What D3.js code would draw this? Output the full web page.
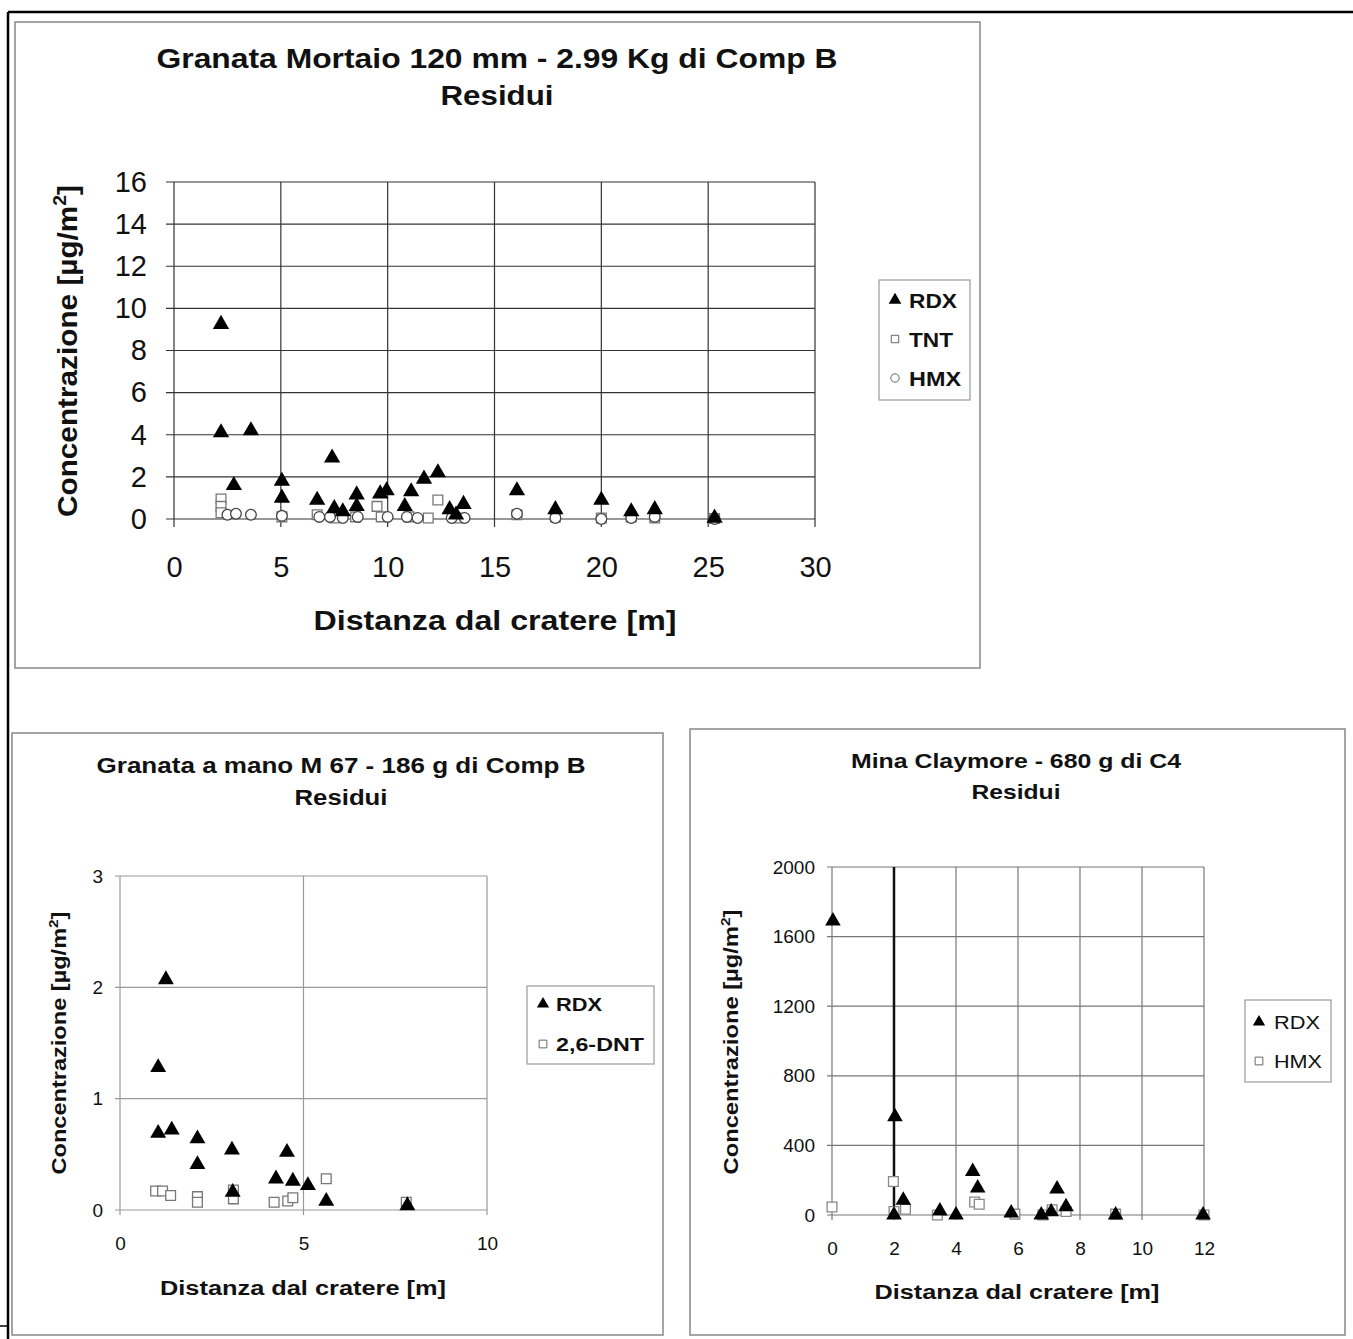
<!DOCTYPE html>
<html><head><meta charset="utf-8">
<script src="https://cdn.jsdelivr.net/npm/d3@7/dist/d3.min.js"></script>
<style>body{margin:0;background:#fff}svg{display:block}text{font-family:"Liberation Sans",Arial,sans-serif;fill:#111}</style>
</head><body>
<script>
// ---------- DATA ----------
// Chart 1: Granata Mortaio 120 mm
const mortarTitle = ["Granata Mortaio 120 mm - 2.99 Kg di Comp B", "Residui"];
const mortarXTicks = [0, 5, 10, 15, 20, 25, 30];
const mortarYTicks = [0, 2, 4, 6, 8, 10, 12, 14, 16];
const mortarRDX = [[2.2,9.25],[2.2,4.1],[3.6,4.2],[2.8,1.6],[5.05,1.8],[5.05,1.0],[7.4,2.9],[6.7,0.9],[7.5,0.5],[7.9,0.35],
  [8.55,1.15],[8.55,0.6],[9.65,1.2],[9.95,1.35],[11.1,1.3],[10.8,0.6],[11.7,1.9],[12.35,2.2],[12.9,0.45],[13.55,0.7],[13.2,0.2],
  [16.05,1.35],[17.85,0.45],[20.0,0.9],[21.4,0.35],[22.5,0.45],[25.3,0.05]];
const mortarTNT = [[2.2,0.95],[2.2,0.6],[2.2,0.3],[5.05,0.1],[6.7,0.2],[7.5,0.05],[8.5,0.1],[9.5,0.6],[9.7,0.1],[11.0,0.1],[12.35,0.9],[11.9,0.05],[13.3,0.05],
  [16.05,0.2],[17.85,0.1],[20.0,0.05],[21.4,0.1],[22.5,0.05],[25.3,0.02]];
const mortarHMX = [[2.5,0.2],[2.9,0.25],[3.6,0.2],[5.05,0.15],[6.8,0.1],[7.3,0.1],[7.9,0.05],[8.6,0.1],[10.0,0.1],[10.9,0.1],[11.4,0.05],[13.0,0.05],[13.6,0.05],
  [16.05,0.25],[17.85,0.05],[20.0,0.0],[21.4,0.05],[22.5,0.1],[25.3,0.0]];
const mortarLegend = ["RDX", "TNT", "HMX"];

// Chart 2: Granata a mano M 67
const handTitle = ["Granata a mano M 67 - 186 g di Comp B", "Residui"];
const handXTicks = [0, 5, 10];
const handYTicks = [0, 1, 2, 3];
const handRDX = [[1.25,2.07],[1.04,1.28],[1.04,0.69],[1.41,0.72],[2.11,0.64],[2.11,0.41],[3.05,0.54],[3.07,0.16],
  [4.55,0.52],[4.25,0.28],[4.71,0.26],[5.12,0.22],[5.62,0.08],[7.83,0.04]];
const handDNT = [[0.97,0.17],[1.16,0.17],[1.38,0.13],[2.11,0.12],[2.11,0.07],[3.09,0.1],[3.09,0.18],[4.2,0.07],[4.57,0.08],[4.71,0.11],[5.62,0.28],[7.8,0.07]];
const handLegend = ["RDX", "2,6-DNT"];

// Chart 3: Mina Claymore
const claymoreTitle = ["Mina Claymore - 680 g di C4", "Residui"];
const claymoreXTicks = [0, 2, 4, 6, 8, 10, 12];
const claymoreYTicks = [0, 400, 800, 1200, 1600, 2000];
const claymoreRDX = [[0.03,1690],[2.03,565],[2.0,0],[2.3,85],[3.48,23],[4.0,0],[4.54,250],[4.7,155],[5.78,12],
  [6.75,0],[7.07,18],[7.26,150],[7.55,48],[9.15,0],[11.97,0]];
const claymoreHMX = [[0,46],[1.98,192],[2.0,20],[2.37,33],[3.4,0],[4.6,75],[4.75,62],[5.9,5],[6.8,0],[7.1,30],[7.55,20],[9.15,5],[12,0]];
const claymoreLegend = ["RDX", "HMX"];

// ---------- DRAWING ----------
const W = 1353, H = 1339;
const svg = d3.select("body").append("svg").attr("width", W).attr("height", H);

// outer page frame
svg.append("line").attr("x1",8).attr("y1",12).attr("x2",W).attr("y2",12).attr("stroke","#000").attr("stroke-width",2.5);
svg.append("line").attr("x1",8).attr("y1",12).attr("x2",8).attr("y2",H).attr("stroke","#000").attr("stroke-width",2.5);
svg.append("line").attr("x1",0).attr("y1",1326).attr("x2",8).attr("y2",1326).attr("stroke","#000").attr("stroke-width",1.5);

function box(x,y,w,h){
  svg.append("rect").attr("x",x).attr("y",y).attr("width",w).attr("height",h)
    .attr("fill","none").attr("stroke","#888").attr("stroke-width",1.5);
}
box(15,22,965,646);
box(12,733,651,602);
box(690,729,655,606);

function sym(type, size){ return d3.symbol().type(type).size(size)(); }

function chart(o){
  const g = svg.append("g");
  const x = d3.scaleLinear().domain(o.xDom).range([o.l, o.r]);
  const y = d3.scaleLinear().domain(o.yDom).range([o.b, o.t]);
  // grid
  g.append("g").selectAll("line").data(o.yTicks).join("line")
    .attr("x1", o.l - o.tick).attr("x2", o.r).attr("y1", d=>y(d)).attr("y2", d=>y(d))
    .attr("stroke", o.grid).attr("stroke-width", o.gridW);
  g.append("g").selectAll("line").data(o.xTicks).join("line")
    .attr("y1", o.t).attr("y2", o.b + o.tick).attr("x1", d=>x(d)).attr("x2", d=>x(d))
    .attr("stroke", o.grid).attr("stroke-width", o.gridW);
  // axes with d3 axis for labels
  const ya = d3.axisLeft(y).tickValues(o.yTicks).tickSize(0).tickPadding(o.yPad).tickFormat(d3.format("d"));
  const xa = d3.axisBottom(x).tickValues(o.xTicks).tickSize(0).tickPadding(o.xPad).tickFormat(d3.format("d"));
  const gy = g.append("g").attr("transform",`translate(${o.l},0)`).call(ya);
  const gx = g.append("g").attr("transform",`translate(0,${o.b})`).call(xa);
  [gy,gx].forEach(a=>{a.select(".domain").remove();
    a.selectAll("text").attr("font-size",o.tickFont).attr("font-family","Liberation Sans, Arial").attr("fill","#111");});
  // extra lines
  if (o.extra) o.extra(g, x, y);
  // markers: open first, RDX on top
  o.open.forEach(s=>{
    g.append("g").selectAll("path").data(s.data).join("path")
      .attr("d", sym(s.type, s.size))
      .attr("transform", d=>`translate(${x(d[0])},${y(d[1])})`)
      .attr("fill","#fff").attr("stroke", s.stroke).attr("stroke-width",1.3);
  });
  g.append("g").selectAll("path").data(o.rdx).join("path")
    .attr("d", sym(d3.symbolTriangle, o.triSize))
    .attr("transform", d=>`translate(${x(d[0])},${y(d[1])})`)
    .attr("fill","#000");
  // titles
  o.title.forEach((t,i)=>{
    g.append("text").attr("x",o.titleX).attr("y",o.titleY[i]).attr("text-anchor","middle")
      .attr("font-weight","bold").attr("font-size",o.titleFont)
      .attr("textLength", o.titleLen[i]).attr("lengthAdjust","spacingAndGlyphs").text(t);
  });
  g.append("text").attr("x",o.xtX).attr("y",o.xtY).attr("text-anchor","middle")
    .attr("font-weight","bold").attr("font-size",o.axFont)
    .attr("textLength",o.xtLen).attr("lengthAdjust","spacingAndGlyphs").text("Distanza dal cratere [m]");
  const yt = g.append("text").attr("transform",`translate(${o.ytX},${o.ytY}) rotate(-90)`).attr("text-anchor","middle")
    .attr("font-weight","bold").attr("font-size",o.axFont)
    .attr("textLength",o.ytLen).attr("lengthAdjust","spacingAndGlyphs");
  yt.append("tspan").text("Concentrazione [µg/m");
  yt.append("tspan").attr("font-size", o.axFont*0.65).attr("dy", -o.axFont*0.4).text("2");
  yt.append("tspan").attr("dy", o.axFont*0.4).text("]");
  // legend
  const L = o.legend;
  g.append("rect").attr("x",L.x).attr("y",L.y).attr("width",L.w).attr("height",L.h)
    .attr("fill","#fff").attr("stroke","#999").attr("stroke-width",1.2);
  L.items.forEach((it,i)=>{
    const cy = L.y + L.first + i*L.step;
    const p = g.append("path").attr("d", sym(it.type, it.size)).attr("transform",`translate(${L.x+L.mx},${cy})`);
    if (it.filled) p.attr("fill","#000"); else p.attr("fill","#fff").attr("stroke","#666").attr("stroke-width",1);
    g.append("text").attr("x",L.x+L.tx).attr("y",cy).attr("dy","0.36em")
      .attr("font-size",L.font).attr("font-weight",L.weight)
      .attr("textLength", it.len).attr("lengthAdjust","spacingAndGlyphs").text(it.label);
  });
}

// Chart 1
chart({
  l:174, r:815, t:182, b:519, xDom:[0,30], yDom:[0,16],
  xTicks: mortarXTicks, yTicks: mortarYTicks, tick:8,
  grid:"#333", gridW:1.2, tickFont:29, yPad:27, xPad:37,
  open:[{data:mortarTNT, type:d3.symbolSquare, size:95, stroke:"#777"},
        {data:mortarHMX, type:d3.symbolCircle, size:90, stroke:"#444"}],
  rdx: mortarRDX, triSize:115,
  title: mortarTitle, titleX:497, titleY:[68,105], titleFont:27, titleLen:[681,113],
  xtX:495, xtY:630, xtLen:363, ytX:77, ytY:351, ytLen:332, axFont:27,
  legend:{x:879,y:280,w:91,h:120,first:20,step:39,mx:16,tx:30,font:21,weight:"bold",
    items:[{label:mortarLegend[0],type:d3.symbolTriangle,size:70,filled:true,len:48},
           {label:mortarLegend[1],type:d3.symbolSquare,size:55,len:44},
           {label:mortarLegend[2],type:d3.symbolCircle,size:55,len:52}]}
});

// Chart 2
chart({
  l:120, r:487, t:876, b:1210, xDom:[0,10], yDom:[0,3],
  xTicks: handXTicks, yTicks: handYTicks, tick:5,
  grid:"#999", gridW:1.2, tickFont:19, yPad:17, xPad:27,
  open:[{data:handDNT, type:d3.symbolSquare, size:95, stroke:"#777"}],
  rdx: handRDX, triSize:110,
  title: handTitle, titleX:341, titleY:[773,805], titleFont:22, titleLen:[489,93],
  xtX:303, xtY:1295, xtLen:286, ytX:66, ytY:1043, ytLen:263, axFont:20,
  legend:{x:527,y:986,w:127,h:78,first:18,step:40,mx:16,tx:29,font:19,weight:"bold",
    items:[{label:handLegend[0],type:d3.symbolTriangle,size:65,filled:true,len:46},
           {label:handLegend[1],type:d3.symbolSquare,size:60,len:88}]}
});

// Chart 3
chart({
  l:832, r:1204, t:867, b:1215, xDom:[0,12], yDom:[0,2000],
  xTicks: claymoreXTicks, yTicks: claymoreYTicks, tick:5,
  grid:"#777", gridW:1.2, tickFont:19, yPad:17, xPad:27,
  open:[{data:claymoreHMX, type:d3.symbolSquare, size:95, stroke:"#888"}],
  rdx: claymoreRDX, triSize:105,
  title: claymoreTitle, titleX:1016, titleY:[768,799], titleFont:21, titleLen:[330,89],
  xtX:1017, xtY:1299, xtLen:285, ytX:738, ytY:1042, ytLen:265, axFont:20,
  extra:(g,x,y)=>{ g.append("line").attr("x1",x(2)).attr("x2",x(2)).attr("y1",y(2000)).attr("y2",y(0))
      .attr("stroke","#111").attr("stroke-width",2.5); },
  legend:{x:1245,y:1000,w:86,h:82,first:22,step:39,mx:14,tx:29,font:19,weight:"normal",
    items:[{label:claymoreLegend[0],type:d3.symbolTriangle,size:65,filled:true,len:46},
           {label:claymoreLegend[1],type:d3.symbolSquare,size:60,len:48}]}
});
</script>
</body></html>
